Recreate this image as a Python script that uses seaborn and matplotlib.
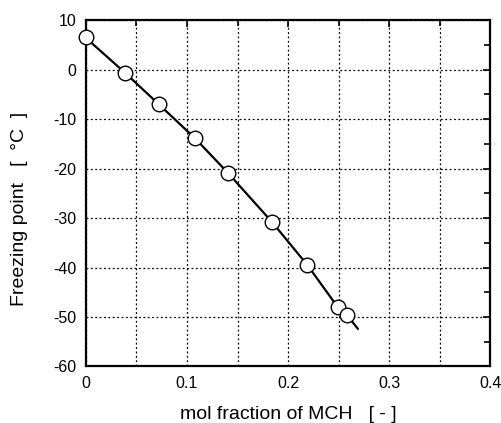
import matplotlib
matplotlib.use("Agg")
import matplotlib.pyplot as plt
import seaborn as sns
import pandas as pd
from matplotlib.ticker import MultipleLocator, FuncFormatter

# measured freezing points
mol_fraction = [0.0, 0.039, 0.072, 0.108, 0.141, 0.184, 0.219, 0.249, 0.258]
freezing_point = [6.6, -0.7, -7.0, -13.9, -21.0, -30.8, -39.5, -48.0, -49.6]

# fitted curve
curve_x = [0.0, 0.039, 0.072, 0.108, 0.141, 0.184, 0.219, 0.249, 0.258, 0.269]
curve_y = [6.4, -0.7, -7.0, -13.9, -21.0, -30.8, -39.5, -48.0, -49.6, -52.4]

df = pd.DataFrame({"x": mol_fraction, "y": freezing_point})
df_curve = pd.DataFrame({"x": curve_x, "y": curve_y})

sns.set_style("white")
plt.rcParams['font.family'] = ['Liberation Sans', 'DejaVu Sans']
plt.rcParams['text.color'] = 'black'
plt.rcParams['axes.labelcolor'] = 'black'
plt.rcParams['xtick.color'] = 'black'
plt.rcParams['ytick.color'] = 'black'

fig = plt.figure(figsize=(5.02, 4.23), dpi=100)
ax = fig.add_axes([0.171, 0.1336, 0.806, 0.819])

sns.lineplot(data=df_curve, x="x", y="y", ax=ax, color="black", linewidth=1.6,
             sort=False, estimator=None, zorder=3)
sns.scatterplot(data=df, x="x", y="y", ax=ax, s=110, facecolor="white",
                edgecolor="black", linewidth=1.0, zorder=4, clip_on=False)

ax.set_xlim(0, 0.4)
ax.set_ylim(-60, 10)
ax.xaxis.set_major_locator(MultipleLocator(0.1))
ax.xaxis.set_minor_locator(MultipleLocator(0.05))
ax.yaxis.set_major_locator(MultipleLocator(10))
ax.yaxis.set_minor_locator(MultipleLocator(5))
ax.xaxis.set_major_formatter(FuncFormatter(lambda v, p: f"{v:g}"))
ax.yaxis.set_major_formatter(FuncFormatter(lambda v, p: f"{v:g}"))

ax.grid(True, which="major", color="black", linestyle=(0, (1.5, 2)), linewidth=0.9)
ax.xaxis.grid(True, which="minor", color="black", linestyle=(0, (1.5, 2)), linewidth=0.9)

ax.tick_params(which="both", direction="in", top=True, right=True, width=1.2,
               labelsize=11.5, pad=7, colors="black")
ax.tick_params(which="major", length=5)
ax.tick_params(which="minor", length=4)

for s in ax.spines.values():
    s.set_linewidth(1.6)
    s.set_color("black")

ax.set_xlabel("mol fraction of MCH   [ - ]", fontsize=14, labelpad=11, color="black")
ax.set_ylabel("Freezing point   [  °C  ]", fontsize=14, color="black")
ax.yaxis.set_label_coords(-0.143, 0.455)

fig.savefig("out.png", dpi=100)
